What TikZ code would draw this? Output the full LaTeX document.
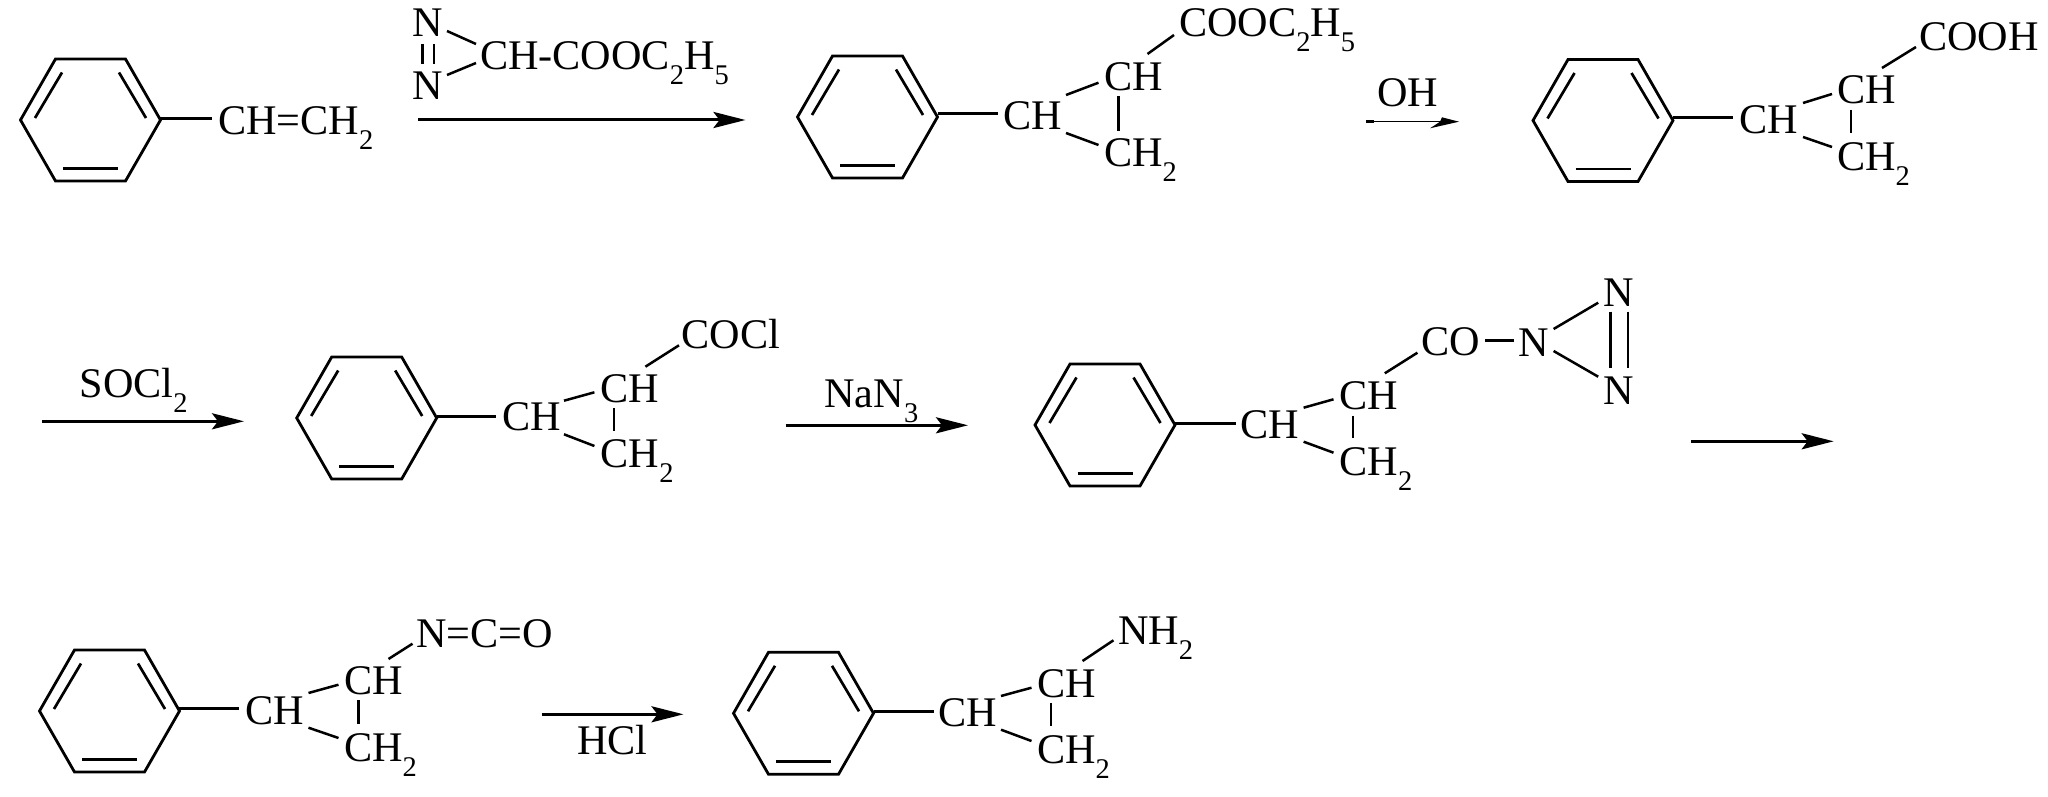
\documentclass[tikz,border=0pt]{standalone}
\usepackage{fontspec}
\setmainfont{Liberation Serif}
\usetikzlibrary{arrows.meta}
\newcommand\sbs[1]{\raisebox{-15pt}{\fontsize{28.5}{28.5}\selectfont #1}}
\tikzset{
  chem/.style={anchor=base west,inner sep=0pt,outer sep=0pt,xshift=-2pt,yshift=0pt,font=\fontsize{42.2}{46}\selectfont},
  ringline/.style={line width=2.8pt,line join=miter},
  innerline/.style={line width=2.7pt},
  bondline/.style={line width=3pt},
  thinbond/.style={line width=2.5pt},
  rxnline/.style={line width=3pt,-{Stealth[length=32pt,width=16pt,inset=6pt]}}
}
% ring: name, cx, cy
\newcommand\benzene[3]{%
  \begin{scope}[shift={(#2,#3)}]
    \coordinate (#1-e) at (70,0);
    \coordinate (#1-ne) at (35,-61);
    \coordinate (#1-nw) at (-35,-61);
    \coordinate (#1-w) at (-70,0);
    \coordinate (#1-sw) at (-35,61);
    \coordinate (#1-se) at (35,61);
    \draw[ringline] (#1-e)--(#1-ne)--(#1-nw)--(#1-w)--(#1-sw)--(#1-se)--cycle;
    \coordinate (#1-i1) at (28.5,-47.5);
    \coordinate (#1-i2) at (55.5,-2);
    \coordinate (#1-i3) at (-28.5,-47.5);
    \coordinate (#1-i4) at (-55.5,-2);
    \coordinate (#1-i5) at (-27.5,48.5);
    \coordinate (#1-i6) at (27.5,48.5);
    \draw[innerline] (#1-i1)--(#1-i2);
    \draw[innerline] (#1-i3)--(#1-i4);
    \draw[innerline] (#1-i5)--(#1-i6);
  \end{scope}}
% bond with named ends: name, start, end, style
\newcommand\bondat[4][bondline]{%
  \coordinate (#2-s) at (#3);
  \coordinate (#2-t) at (#4);
  \draw[#1] (#2-s)--(#2-t);}
\newcommand\rxn[3]{%
  \coordinate (#1-s) at (#2);
  \coordinate (#1-t) at (#3);
  \draw[rxnline] (#1-s)--(#1-t);}
\begin{document}
\begin{tikzpicture}[x=1pt,y=-1pt]
\useasboundingbox (0,0) rectangle (2048,797);

% styrene
\benzene{ra}{90.5}{120}
\node[chem] (st) at (220,135) {CH=CH\sbs{2}};
\bondat[bondline]{ba}{160,119}{212,119}

% reagent over arrow 1
\node[chem] (rn1) at (414,37) {N};
\node[chem] (rn2) at (414,100) {N};
\node[chem] (rch) at (482,69.5) {CH-COOC\sbs{2}H\sbs{5}};
\bondat[thinbond]{rd1}{422.5,44}{422.5,64}
\bondat[thinbond]{rd2}{434,44}{434,64}
\bondat[thinbond]{rb1}{447,31}{476,44}
\bondat[thinbond]{rb2}{447,75}{476,63}
\rxn{ar1}{418,120}{745.5,120}

% ethyl ester
\benzene{rb}{867.5}{117}
\bondat{bb0}{937.5,114}{997.5,114}
\node[chem] (b1) at (1005,130) {CH};
\node[chem] (b2) at (1106,90.7) {CH};
\node[chem] (b3) at (1106,167) {CH\sbs{2}};
\node[chem] (b4) at (1181,36.7) {COOC\sbs{2}H\sbs{5}};
\bondat[thinbond]{bb1}{1066,95}{1098.5,82.7}
\bondat[thinbond]{bb2}{1066,133}{1098.5,145}
\bondat[thinbond]{bb3}{1118.5,96}{1118.5,130.7}
\bondat[thinbond]{bb4}{1147.5,54}{1174,35}

% OH arrow
\node[chem] (oh) at (1379,107) {OH};
\coordinate (oha) at (1366,121.7);
\coordinate (ohm) at (1374,121.7);
\coordinate (ohb) at (1440,121.7);
\coordinate (oht) at (1459,121.7);
\coordinate (ohu) at (1442,117.3);
\coordinate (ohl) at (1430,128.3);
\draw[line width=3pt] (oha)--(ohm);
\draw[line width=1.5pt] (ohm)--(ohb);
\fill (oht)--(ohu)--(ohb)--(ohl)--cycle;

% acid
\benzene{rc}{1603}{120.5}
\bondat{cb0}{1673,118}{1733,118}
\node[chem] (c1) at (1741,134) {CH};
\node[chem] (c2) at (1839,104) {CH};
\node[chem] (c3) at (1839,170) {CH\sbs{2}};
\node[chem] (c4) at (1921,51) {COOH};
\bondat[thinbond]{cb1}{1803,103}{1832,94}
\bondat[thinbond]{cb2}{1803,137}{1832,147}
\bondat[thinbond]{cb3}{1851,110}{1851,133}
\bondat[thinbond]{cb4}{1882,68}{1916,47}

% row 2
\node[chem] (so) at (81.6,397.7) {SOCl\sbs{2}};
\rxn{ar2}{42,421.3}{244,421.3}

\benzene{rd}{366.7}{418}
\bondat{db0}{436.9,416}{496,416}
\node[chem] (d1) at (504,430.7) {CH};
\node[chem] (d2) at (602.7,402.3) {CH};
\node[chem] (d3) at (602.7,467.7) {CH\sbs{2}};
\node[chem] (d4) at (683.7,348.3) {COCl};
\bondat[thinbond]{db1}{564,400.7}{594.4,392.3}
\bondat[thinbond]{db2}{564,434.3}{594.4,446}
\bondat[thinbond]{db3}{614,408.3}{614,431}
\bondat[thinbond]{db4}{645.4,366.7}{679,345.3}

\node[chem] (na) at (826.5,407.3) {NaN\sbs{3}};
\rxn{ar3}{785.7,425.3}{968,425.3}

\benzene{re}{1105}{425}
\bondat{eb0}{1175,423.3}{1235.7,423.3}
\node[chem] (e1) at (1242,438.3) {CH};
\node[chem] (e2) at (1341.5,409.3) {CH};
\node[chem] (e3) at (1341.5,475) {CH\sbs{2}};
\node[chem] (e4) at (1423,355) {CO};
\node[chem] (e5) at (1520,356.7) {N};
\node[chem] (e6) at (1605,306.7) {N};
\node[chem] (e7) at (1605,404.3) {N};
\bondat[thinbond]{eb1}{1303.6,407.7}{1333.5,399.3}
\bondat[thinbond]{eb2}{1303.6,441.7}{1333.5,452.7}
\bondat[thinbond]{eb3}{1353,415.7}{1353,438.3}
\bondat[thinbond]{eb4}{1384.8,373.3}{1417.4,352.7}
\bondat{eb5}{1485.3,340.3}{1514.3,340.3}
\bondat[thinbond]{eb6}{1553.6,329}{1598.2,302.7}
\bondat[thinbond]{eb7}{1553.6,351}{1598.2,376.7}
\bondat[thinbond]{eb8}{1610.3,311.7}{1610.3,368.3}
\bondat[thinbond]{eb9}{1628,311.7}{1628,368.3}

\rxn{ar4}{1691,441.3}{1833.7,441.3}

% row 3
\benzene{rf}{109.5}{711}
\bondat{fb0}{179,708}{239,708}
\node[chem] (f1) at (247.5,724.3) {CH};
\node[chem] (f2) at (346,694.7) {CH};
\node[chem] (f3) at (346,761.3) {CH\sbs{2}};
\node[chem] (f4) at (418.5,647) {N=C=O};
\bondat[thinbond]{fb1}{308.5,693}{338.5,684.7}
\bondat[thinbond]{fb2}{308.5,727.7}{338.5,738}
\bondat[thinbond]{fb3}{358.5,700.3}{358.5,724.3}
\bondat[thinbond]{fb4}{388.5,659}{412.5,643.7}

\rxn{ar5}{541.5,714.3}{683.5,714.3}
\node[chem] (hcl) at (579,754.3) {HCl};

\benzene{rg}{803.5}{713.3}
\bondat{gb0}{873.5,711.3}{933.5,711.3}
\node[chem] (g1) at (940,726.3) {CH};
\node[chem] (g2) at (1039,697.3) {CH};
\node[chem] (g3) at (1039,763.7) {CH\sbs{2}};
\node[chem] (g4) at (1120,644.7) {NH\sbs{2}};
\bondat[thinbond]{gb1}{1001,696}{1031.5,687.7}
\bondat[thinbond]{gb2}{1001,729.7}{1031.5,741}
\bondat[thinbond]{gb3}{1051,703}{1051,726.3}
\bondat[thinbond]{gb4}{1082.5,661}{1113.5,640.3}
\end{tikzpicture}
\end{document}
